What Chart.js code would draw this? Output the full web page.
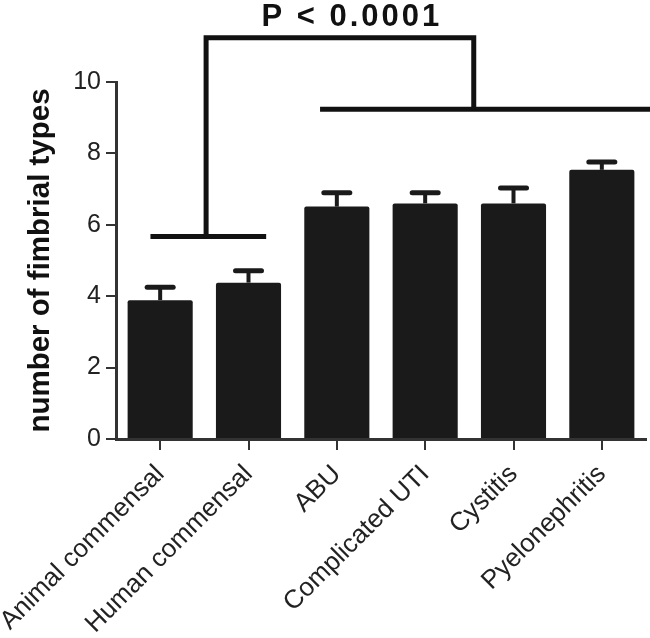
<!DOCTYPE html>
<html>
<head>
<meta charset="utf-8">
<script src="https://cdn.jsdelivr.net/npm/chart.js@4"></script>
<style>
  html, body { margin: 0; padding: 0; background: #fff; }
  #wrap { width: 650px; height: 638px; }
</style>
</head>
<body>
<div id="wrap"><canvas id="chart" width="650" height="638"></canvas></div>
<script>
const categories = ['Animal commensal', 'Human commensal', 'ABU', 'Complicated UTI', 'Cystitis', 'Pyelonephritis'];
const means = [3.89, 4.38, 6.51, 6.6, 6.6, 7.54];
const errorTops = [4.25, 4.71, 6.9, 6.9, 7.03, 7.76];
const yTicks = [0, 2, 4, 6, 8, 10];
const pLabel = 'P < 0.0001';

// bracket positions in category units (x) and axis units (y)
const leftGroup = { from: -0.11, to: 1.2, y: 5.67, stemAt: 0.52 };
const rightGroup = { from: 1.81, to: 7.0, y: 9.24, stemAt: 3.55 };
const topLineY = 11.24;

const font = 'Liberation Sans, Arial, sans-serif';

const errorBars = {
    id: 'errorBars',
    afterDatasetsDraw(chart) {
        const ctx = chart.ctx;
        const meta = chart.getDatasetMeta(0);
        const y = chart.scales.y;
        ctx.save();
        ctx.strokeStyle = '#1a1a1a';
        meta.data.forEach((bar, i) => {
            const top = y.getPixelForValue(errorTops[i]);
            ctx.lineWidth = 4;
            ctx.beginPath();
            ctx.moveTo(bar.x, bar.y);
            ctx.lineTo(bar.x, top);
            ctx.stroke();
            ctx.lineWidth = 5;
            ctx.lineCap = 'round';
            ctx.beginPath();
            ctx.moveTo(bar.x - 13, top);
            ctx.lineTo(bar.x + 13, top);
            ctx.stroke();
            ctx.lineCap = 'butt';
        });
        ctx.restore();
    }
};

const brackets = {
    id: 'brackets',
    afterDraw(chart) {
        const ctx = chart.ctx;
        const x = chart.scales.x, y = chart.scales.y;
        const px = v => x.getPixelForValue(v);
        const py = v => y.getPixelForValue(v);
        ctx.save();
        ctx.strokeStyle = '#111';
        ctx.lineWidth = 5;
        ctx.lineJoin = 'miter';
        [leftGroup, rightGroup].forEach(g => {
            ctx.beginPath();
            ctx.moveTo(px(g.from), py(g.y));
            ctx.lineTo(Math.min(px(g.to), chart.width), py(g.y));
            ctx.stroke();
        });
        ctx.beginPath();
        ctx.moveTo(px(leftGroup.stemAt), py(leftGroup.y));
        ctx.lineTo(px(leftGroup.stemAt), py(topLineY));
        ctx.lineTo(px(rightGroup.stemAt), py(topLineY));
        ctx.lineTo(px(rightGroup.stemAt), py(rightGroup.y));
        ctx.stroke();
        // p value label
        ctx.fillStyle = '#111';
        ctx.font = 'bold 31px ' + font;
        ctx.letterSpacing = '3px';
        ctx.textAlign = 'center';
        ctx.textBaseline = 'alphabetic';
        ctx.fillText(pLabel, (px(leftGroup.stemAt) + px(rightGroup.stemAt)) / 2 + 12, py(topLineY) - 12);
        ctx.restore();
    }
};

new Chart(document.getElementById('chart').getContext('2d'), {
    type: 'bar',
    data: {
        labels: categories,
        datasets: [{
            data: means,
            backgroundColor: '#1a1a1a',
            borderWidth: 0,
            borderRadius: 2,
            categoryPercentage: 0.737,
            barPercentage: 1.0
        }]
    },
    options: {
        responsive: false,
        animation: false,
        layout: { padding: { top: 82, right: 4, left: 0, bottom: 0 } },
        plugins: {
            legend: { display: false },
            tooltip: { enabled: false }
        },
        scales: {
            x: {
                afterFit: s => { s.height = 199; s.paddingLeft = 0; s.paddingRight = 0; },
                grid: { offset: false, drawOnChartArea: false, drawTicks: true, tickLength: 11, color: '#333', lineWidth: 2 },
                border: { color: '#333', width: 3 },
                ticks: {
                    color: '#222',
                    font: { family: font, size: 26 },
                    maxRotation: 45,
                    minRotation: 45,
                    padding: 9
                }
            },
            y: {
                min: 0,
                max: 10,
                afterFit: s => { s.width = 116; },
                afterBuildTicks: axis => { axis.ticks = yTicks.map(v => ({ value: v })); },
                grid: { drawOnChartArea: false, drawTicks: true, tickLength: 10, color: '#333', lineWidth: 2 },
                border: { color: '#333', width: 3 },
                ticks: {
                    color: '#222',
                    font: { family: font, size: 25 },
                    padding: 5
                },
                title: {
                    display: true,
                    text: 'number of fimbrial types',
                    color: '#111',
                    font: { family: font, size: 29.5, weight: 'bold' },
                    padding: { top: 23, bottom: 0 }
                }
            }
        }
    },
    plugins: [errorBars, brackets]
});
</script>
</body>
</html>
